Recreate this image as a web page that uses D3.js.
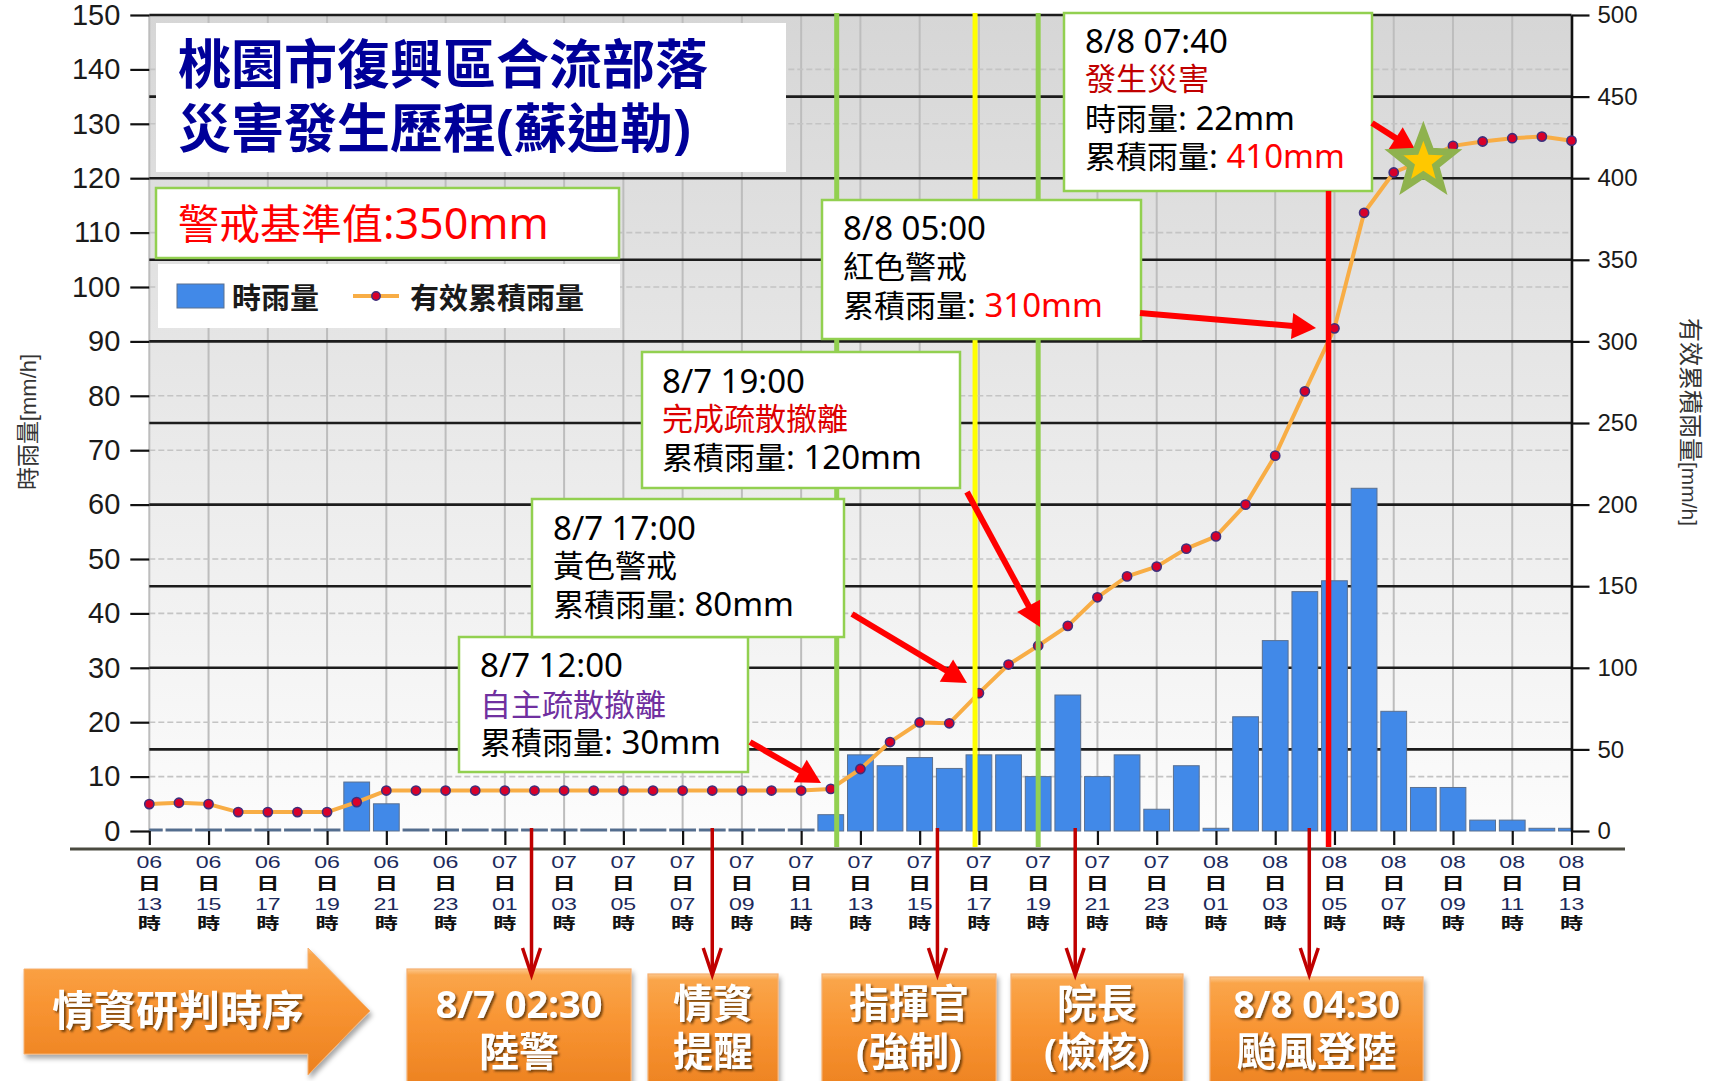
<!DOCTYPE html>
<html><head><meta charset="utf-8">
<script src="https://cdn.jsdelivr.net/npm/d3@7"></script>
<style>body{margin:0;background:#fff;} svg{display:block;} text{white-space:pre;}</style>
</head><body><svg id="c" width="1713" height="1081"></svg>
<script>
// ---------- DATA ----------
const hours = ["06 13","06 14","06 15","06 16","06 17","06 18","06 19","06 20","06 21","06 22","06 23",
  "07 00","07 01","07 02","07 03","07 04","07 05","07 06","07 07","07 08","07 09","07 10","07 11","07 12",
  "07 13","07 14","07 15","07 16","07 17","07 18","07 19","07 20","07 21","07 22","07 23",
  "08 00","08 01","08 02","08 03","08 04","08 05","08 06","08 07","08 08","08 09","08 10","08 11","08 12","08 13"];
const hourlyRain = [0,0,0,0,0,0,0,9,5,0,0,
  0,0,0,0,0,0,0,0,0,0,0,0,3,
  14,12,13.5,11.5,14,14,10,25,10,14,4,
  12,0.5,21,35,44,46,63,22,8,8,2,2,0.5,0.5];
const effectiveRain = [16.5,17.3,16.5,11.6,11.6,11.6,11.6,17.7,24.8,24.8,24.8,
  24.8,24.8,24.8,24.8,24.8,24.8,24.8,24.8,24.8,24.8,24.8,24.8,25.8,
  38,54.5,66.5,66,84.5,102,113.5,125.7,143.2,156,162,
  173,180.5,200,230,269.4,308,378.8,403.5,411,419.8,422.5,424.5,425.5,423];
const tickHours = ["06 13","06 15","06 17","06 19","06 21","06 23","07 01","07 03","07 05","07 07","07 09","07 11",
  "07 13","07 15","07 17","07 19","07 21","07 23","08 01","08 03","08 05","08 07","08 09","08 11","08 13"];
const tickDay = ["06","06","06","06","06","06","07","07","07","07","07","07","07","07","07","07","07","07","08","08","08","08","08","08","08"];
const tickHour = ["13","15","17","19","21","23","01","03","05","07","09","11","13","15","17","19","21","23","01","03","05","07","09","11","13"];
const leftTicks = [0,10,20,30,40,50,60,70,80,90,100,110,120,130,140,150];
const rightTicks = [0,50,100,150,200,250,300,350,400,450,500];
const eventLines = [
  {label:"8/7 12:00", hour:23.2,  color:"#92d050"},
  {label:"8/7 17:00", hour:27.87, color:"#ffff00"},
  {label:"8/7 19:00", hour:30.0,  color:"#92d050"},
  {label:"8/8 05:00", hour:39.8,  color:"#ff0000"}
];
const disasterPoint = {hour:"08 08", value:410};
const timelineHours = [12.9, 19.0, 26.6, 31.25, 39.15];

// ---------- SETUP ----------
const svg = d3.select("#c");
const CJK = "'Noto Sans CJK TC','Noto Sans CJK SC',sans-serif";
const LAT = "'Noto Sans','Liberation Sans',sans-serif";
const NUM = "'Liberation Sans','Arial',sans-serif";
const x0 = 149.3, x1 = 1571.5, yTop = 15, yBot = 831;
const x = d3.scalePoint().domain(hours).range([x0, x1]);
const xh = d3.scaleLinear().domain([0, hours.length - 1]).range([x0, x1]);
const yL = d3.scaleLinear().domain([0, 150]).range([yBot, yTop]);
const yR = d3.scaleLinear().domain([0, 500]).range([yBot, yTop]);
const step = x.step();

const defs = svg.append("defs");
const bg = defs.append("linearGradient").attr("id","bg").attr("x1",0).attr("y1",0).attr("x2",0).attr("y2",1);
bg.append("stop").attr("offset","0%").attr("stop-color","#d6d6d6");
bg.append("stop").attr("offset","100%").attr("stop-color","#fcfcfc");
const og = defs.append("linearGradient").attr("id","og").attr("x1",0).attr("y1",0).attr("x2",0).attr("y2",1);
[["0%","#fdc88c"],["5%","#faa54a"],["45%","#f89432"],["100%","#ec8120"]].forEach(s=>og.append("stop").attr("offset",s[0]).attr("stop-color",s[1]));
defs.append("clipPath").attr("id","plotclip").append("rect").attr("x",x0).attr("y",0).attr("width",x1-x0).attr("height",yBot+2);
const ts = defs.append("filter").attr("id","tshadow").attr("x","-20%").attr("y","-20%").attr("width","140%").attr("height","140%");
ts.append("feDropShadow").attr("dx",2).attr("dy",2).attr("stdDeviation",1).attr("flood-color","#4a2a00").attr("flood-opacity",0.75);
const bs = defs.append("filter").attr("id","bshadow").attr("x","-10%").attr("y","-10%").attr("width","130%").attr("height","130%");
bs.append("feDropShadow").attr("dx",2).attr("dy",4).attr("stdDeviation",2.5).attr("flood-color","#000").attr("flood-opacity",0.35);

function rich(g, px, py, segs, cs, ls, opt = {}) {
  const t = g.append("text").attr("x", px).attr("y", py).attr("text-anchor", opt.anchor || "start")
    .attr("font-weight", opt.weight || "normal");
  if (opt.filter) t.attr("filter", opt.filter);
  segs.forEach(([str, color]) => {
    str.split(/([\u2E80-\u9FFF\uFF00-\uFFEF\u3000-\u303F]+)/).filter(s => s).forEach(part => {
      const isC = /[\u2E80-\u9FFF\uFF00-\uFFEF\u3000-\u303F]/.test(part);
      t.append("tspan").text(part).attr("fill", color)
        .style("font-family", isC ? CJK : (opt.latFont || LAT)).style("font-size", (isC ? cs : ls) + "px");
    });
  });
  return t;
}

// ---------- PLOT BACKGROUND & GRID ----------
svg.append("rect").attr("x",x0).attr("y",yTop).attr("width",x1-x0).attr("height",yBot-yTop).attr("fill","url(#bg)");
svg.append("g").selectAll("line").data(tickHours).join("line")
  .attr("x1",d=>x(d)).attr("x2",d=>x(d)).attr("y1",yTop).attr("y2",yBot)
  .attr("stroke","#bdbdbd").attr("stroke-width",2);
svg.append("g").selectAll("line").data(leftTicks.filter(v => v % 30 !== 0)).join("line")
  .attr("x1",x0).attr("x2",x1).attr("y1",d=>yL(d)).attr("y2",d=>yL(d))
  .attr("stroke","#c4c4c4").attr("stroke-width",1.6).attr("stroke-dasharray","6,3");
svg.append("g").selectAll("line").data(rightTicks.filter(v => v > 0)).join("line")
  .attr("x1",x0).attr("x2",x1).attr("y1",d=>yR(d)).attr("y2",d=>yR(d))
  .attr("stroke","#1c1c1c").attr("stroke-width",2.6);

// ---------- BARS ----------
const bw = step * 0.87;
svg.append("g").attr("clip-path","url(#plotclip)").selectAll("rect").data(hourlyRain).join("rect")
  .attr("x",(d,i)=>x(hours[i]) - bw/2).attr("width",bw)
  .attr("y",d=>Math.min(yL(d), yBot-2)).attr("height",d=>Math.max(yBot - yL(d), 2))
  .attr("fill",d=> d===0 ? "#4d6a8c" : "#4189e8").attr("stroke","#5a7090").attr("stroke-width",1);

// ---------- AXES ----------
const la = svg.append("g").attr("transform",`translate(${x0},0)`)
  .call(d3.axisLeft(yL).tickValues(leftTicks).tickSize(19).tickPadding(10).tickSizeOuter(0));
la.select(".domain").remove();
la.selectAll(".tick line").attr("stroke","#111").attr("stroke-width",2.2);
la.selectAll(".tick text").attr("fill","#1a1a1a").style("font-family",NUM).style("font-size","29px");

const ra = svg.append("g").attr("transform",`translate(${x1},0)`)
  .call(d3.axisRight(yR).tickValues(rightTicks).tickSize(18).tickPadding(8).tickSizeOuter(0));
ra.select(".domain").attr("stroke","#111").attr("stroke-width",2.6);
ra.selectAll(".tick line").attr("stroke","#111").attr("stroke-width",2.2);
ra.selectAll(".tick text").attr("fill","#1a1a1a").style("font-family",NUM).style("font-size","24px");

const ba = svg.append("g").attr("transform",`translate(0,${yBot})`)
  .call(d3.axisBottom(x).tickValues(tickHours).tickSize(14).tickFormat(""));
ba.select(".domain").remove();
ba.selectAll(".tick line").attr("stroke","#111").attr("stroke-width",2.2);
svg.append("line").attr("x1",70).attr("x2",1625).attr("y1",849).attr("y2",849).attr("stroke","#4a4a40").attr("stroke-width",3);

const xl = svg.append("g").selectAll("g").data(tickHours).join("g")
  .attr("transform",d=>`translate(${x(d)},0) scale(1.45,1)`);
xl.append("text").attr("y",868).attr("text-anchor","middle").text((d,i)=>tickDay[i])
  .attr("fill","#1c2a5c").style("font-family",NUM).style("font-size","16px");
xl.append("text").attr("y",889).attr("text-anchor","middle").text("日")
  .attr("fill","#111").attr("font-weight","bold").style("font-family",CJK).style("font-size","16px");
xl.append("text").attr("y",910).attr("text-anchor","middle").text((d,i)=>tickHour[i])
  .attr("fill","#1c2a5c").style("font-family",NUM).style("font-size","16px");
xl.append("text").attr("y",929).attr("text-anchor","middle").text("時")
  .attr("fill","#111").attr("font-weight","bold").style("font-family",CJK).style("font-size","16px");

rich(svg.append("g").attr("transform","translate(28,422) rotate(-90)"),0,8,[["時雨量[mm/h]","#333"]],23,22,{anchor:"middle",latFont:NUM});
rich(svg.append("g").attr("transform","translate(1690,422) rotate(90)"),0,8,[["有效累積雨量[mm/h]","#333"]],24,21,{anchor:"middle",latFont:NUM});

// ---------- LINE ----------
const line = d3.line().x((d,i)=>x(hours[i])).y(d=>yR(d));
svg.append("path").datum(effectiveRain).attr("d",line).attr("fill","none")
  .attr("stroke","#f8ad45").attr("stroke-width",4).attr("stroke-linejoin","round");
svg.append("g").selectAll("circle").data(effectiveRain).join("circle")
  .attr("cx",(d,i)=>x(hours[i])).attr("cy",d=>yR(d)).attr("r",4.6)
  .attr("fill","#d8002a").attr("stroke","#3e2f7c").attr("stroke-width",1.6);

// ---------- EVENT LINES ----------
svg.append("g").selectAll("line").data(eventLines.filter(e=>e.color!=="#ff0000")).join("line")
  .attr("x1",d=>xh(d.hour)).attr("x2",d=>xh(d.hour)).attr("y1",13).attr("y2",847)
  .attr("stroke",d=>d.color).attr("stroke-width",5);

// ---------- ANNOTATION BOXES ----------
const ann = svg.append("g");
// title
ann.append("rect").attr("x",156).attr("y",23).attr("width",630).attr("height",149).attr("fill","#fff");
rich(ann,178,84,[["桃園市復興區合流部落","#000099"]],53,53,{weight:"bold"});
rich(ann,178,148,[["災害發生歷程(蘇迪勒)","#000099"]],53,53,{weight:"bold"});
// warning
ann.append("rect").attr("x",156).attr("y",188).attr("width",463).attr("height",70).attr("fill","#fff").attr("stroke","#92d050").attr("stroke-width",2.5);
rich(ann,178,239,[["警戒基準值:350mm","#ff0000"]],41,43);
// legend
ann.append("rect").attr("x",158).attr("y",264).attr("width",462).attr("height",64).attr("fill","#fff");
ann.append("rect").attr("x",177).attr("y",284).attr("width",47).attr("height",24).attr("fill","#4189e8").attr("stroke","#5a7090");
rich(ann,232,309,[["時雨量","#1a1a1a"]],29,29,{weight:"bold"});
ann.append("line").attr("x1",353).attr("x2",399).attr("y1",296).attr("y2",296).attr("stroke","#f8ad45").attr("stroke-width",4);
ann.append("circle").attr("cx",376).attr("cy",296).attr("r",4.2).attr("fill","#d8002a").attr("stroke","#3e2f7c").attr("stroke-width",1.5);
rich(ann,410,309,[["有效累積雨量","#1a1a1a"]],29,29,{weight:"bold"});

const notes = [
  {x:1064,y:13,w:308,h:178,tx:1085,ys:[53,90,130,168],lines:[[["8/8 07:40","#000"]],[["發生災害","#c00000"]],[["時雨量: 22mm","#000"]],[["累積雨量: ","#000"],["410mm","#ff0000"]]]},
  {x:822,y:200,w:319,h:139,tx:843,ys:[240,278,317],lines:[[["8/8 05:00","#000"]],[["紅色警戒","#000"]],[["累積雨量: ","#000"],["310mm","#ff0000"]]]},
  {x:642,y:352,w:318,h:136,tx:662,ys:[393,430,469],lines:[[["8/7 19:00","#000"]],[["完成疏散撤離","#dd0000"]],[["累積雨量: 120mm","#000"]]]},
  {x:532,y:499,w:312,h:138,tx:553,ys:[540,577,616],lines:[[["8/7 17:00","#000"]],[["黃色警戒","#000"]],[["累積雨量: 80mm","#000"]]]},
  {x:459,y:637,w:289,h:135,tx:480,ys:[677,716,754],lines:[[["8/7 12:00","#000"]],[["自主疏散撤離","#7030a0"]],[["累積雨量: 30mm","#000"]]]}
];
// draw from bottom-most to top-most ordering as in reference (later on top)
[...notes].reverse().forEach(n => {
  ann.append("rect").attr("x",n.x).attr("y",n.y).attr("width",n.w).attr("height",n.h)
    .attr("fill","#fff").attr("stroke","#92d050").attr("stroke-width",2.5);
  n.lines.forEach((l,i)=>rich(ann,n.tx,n.ys[i],l,31,33));
});

// red event line (from the 07:40 box down)
const red = eventLines.find(e=>e.color==="#ff0000");
svg.append("line").attr("x1",xh(red.hour)).attr("x2",xh(red.hour)).attr("y1",191).attr("y2",847)
  .attr("stroke","#ff0000").attr("stroke-width",5.5);

// red pointer arrows
function arrow(g, xa, ya, xb, yb, col, w, hl, hw) {
  const a = Math.atan2(yb-ya, xb-xa), ca = Math.cos(a), sa = Math.sin(a);
  const bx = xb - hl*ca, by = yb - hl*sa;
  g.append("line").attr("x1",xa).attr("y1",ya).attr("x2",bx+ca).attr("y2",by+sa).attr("stroke",col).attr("stroke-width",w);
  g.append("path").attr("d",`M${xb},${yb}L${bx - hw*sa},${by + hw*ca}L${bx + hw*sa},${by - hw*ca}Z`).attr("fill",col);
}
const arr = svg.append("g");
[[750,742,821,783],[852,614,967,683],[967,492,1040,627],[1140,313,1316,328],[1372,123,1416,151]]
  .forEach(p=>arrow(arr,p[0],p[1],p[2],p[3],"#ff0000",6,24,13));

// star
function starPath(cx, cy, R, r) {
  let p = "";
  for (let k = 0; k < 10; k++) {
    const ang = -Math.PI/2 + k*Math.PI/5, rr = k%2===0 ? R : r;
    p += (k===0?"M":"L") + (cx + rr*Math.cos(ang)).toFixed(2) + "," + (cy + rr*Math.sin(ang)).toFixed(2);
  }
  return p + "Z";
}
svg.append("path").attr("d",starPath(x(disasterPoint.hour), yR(disasterPoint.value), 31, 13))
  .attr("fill","#ffc800").attr("stroke","#8fb24e").attr("stroke-width",7).attr("stroke-linejoin","miter");

// ---------- TIMELINE (bottom) ----------
const tl = svg.append("g");
tl.append("path").attr("d","M24,969L308,969L308,948L370,1011L308,1075L308,1054L24,1054Z")
  .attr("fill","url(#og)").attr("stroke","#f6b070").attr("stroke-width",1).attr("filter","url(#bshadow)");
rich(tl,178,1026,[["情資研判時序","#fff"]],42,40,{anchor:"middle",weight:"bold",filter:"url(#tshadow)"});
const tboxes = [
  {x:407,y:969,w:224,l1:"8/7 02:30",l2:"陸警"},
  {x:648,y:974,w:130,l1:"情資",l2:"提醒"},
  {x:822,y:974,w:174,l1:"指揮官",l2:"(強制)"},
  {x:1011,y:974,w:172,l1:"院長",l2:"(檢核)"},
  {x:1210,y:977,w:213,l1:"8/8 04:30",l2:"颱風登陸"}
];
tboxes.forEach(b => {
  tl.append("rect").attr("x",b.x).attr("y",b.y).attr("width",b.w).attr("height",120)
    .attr("fill","url(#og)").attr("stroke","#f6b070").attr("stroke-width",1.2).attr("filter","url(#bshadow)");
  rich(tl,b.x+b.w/2,1018,[[b.l1,"#fff"]],40,38,{anchor:"middle",weight:"bold",filter:"url(#tshadow)"});
  rich(tl,b.x+b.w/2,1066,[[b.l2,"#fff"]],40,38,{anchor:"middle",weight:"bold",filter:"url(#tshadow)"});
});
// dark red timeline arrows
const da = svg.append("g");
timelineHours.forEach(h => {
  const xx = xh(h);
  da.append("line").attr("x1",xx).attr("x2",xx).attr("y1",828).attr("y2",973).attr("stroke","#c00000").attr("stroke-width",3.5);
  da.append("path").attr("d",`M${xx-9},${948}L${xx},${975}L${xx+9},${948}`).attr("fill","none")
    .attr("stroke","#c00000").attr("stroke-width",3.5).attr("stroke-linejoin","miter");
});
</script>
</body></html>
